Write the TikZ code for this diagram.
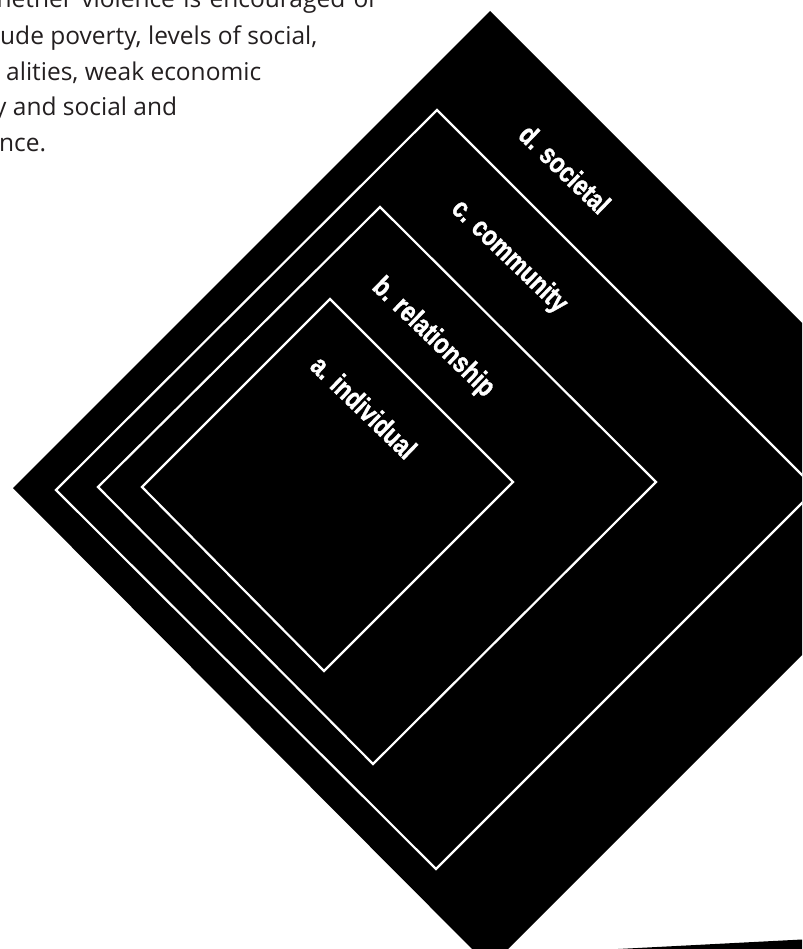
\documentclass[tikz,border=0pt]{standalone}
\usepackage{fontspec}
\setmainfont{Open Sans}
\newfontfamily\labelfont[FakeStretch=0.8,FakeBold=1.3]{Liberation Sans Bold}
\definecolor{bodytext}{HTML}{231F20}
\begin{document}
\begin{tikzpicture}[x=1pt,y=-1pt,
  ring/.style={draw=white, line width=2.2pt, line join=miter},
  lvl/.style={text=white, font=\labelfont\fontsize{28.5}{28.5}\selectfont, rotate=-44, inner sep=0pt},
  para/.style={text=bodytext, font=\fontsize{24.5}{29}\selectfont, anchor=base west, inner sep=0pt}]
\useasboundingbox (0,0) rectangle (802,949);
\clip (0,0) rectangle (802,949);
% paragraph (cropped)
\node[para] (t1) at (-3.5,8) {\spaceskip=8.4pt plus 1pt hether violence is encouraged or};
\node[para] (t2) at (0,44.5) {ude poverty, levels of social,};
\node[para] (t3) at (6,80.5) {alities, weak economic};
\node[para] (t4) at (-6,116) {y and social and};
\node[para] (t5) at (-1,152) {nce.};
% outer (societal) square
\coordinate (dT) at (490,11);
\coordinate (dR) at (968,489);
\coordinate (dB) at (490,967);
\coordinate (dL) at (13,488);
\fill[black] (dT) -- (dR) -- (dB) -- (dL) -- cycle;
% community square
\coordinate (cT) at (437,110);
\coordinate (cR) at (816,489);
\coordinate (cB) at (436,869);
\coordinate (cL) at (56,490);
\draw[ring] (cT) -- (cR) -- (cB) -- (cL) -- cycle;
% relationship square
\coordinate (bT) at (380,207);
\coordinate (bR) at (656,482);
\coordinate (bB) at (373,764);
\coordinate (bL) at (98,487);
\draw[ring] (bT) -- (bR) -- (bB) -- (bL) -- cycle;
% individual square
\coordinate (aT) at (330,299);
\coordinate (aR) at (513,482);
\coordinate (aB) at (324,671);
\coordinate (aL) at (142,487);
\draw[ring] (aT) -- (aR) -- (aB) -- (aL) -- cycle;
% labels
\node[lvl] (ld) at (565,169) {d. societal};
\node[lvl] (lc) at (509,257) {c. community};
\node[lvl] (lb) at (433,338) {b. relationship};
\node[lvl] (la) at (364,407) {a. individual};
% sliver at bottom right
\fill[black] (618,949) -- (802,939.5) -- (802,949) -- cycle;
\end{tikzpicture}
\end{document}
